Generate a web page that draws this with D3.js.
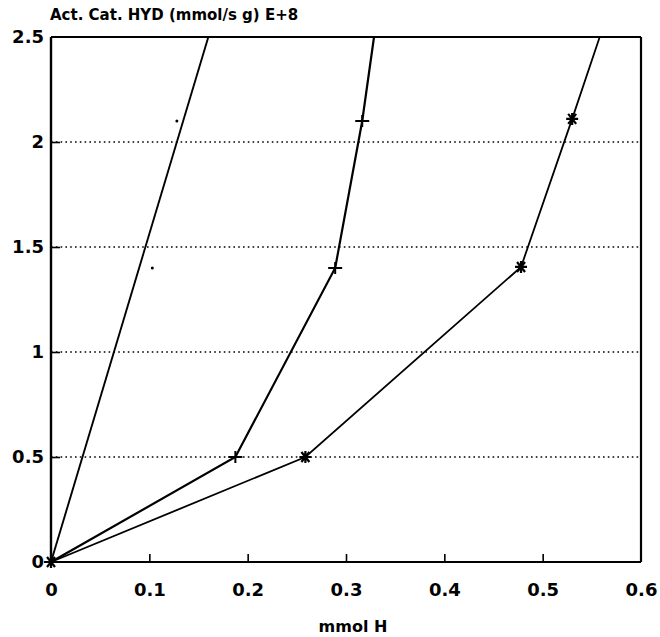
<!DOCTYPE html>
<html><head><meta charset="utf-8">
<script src="https://cdn.jsdelivr.net/npm/d3@7"></script>
<style>
html,body{margin:0;padding:0;background:#fff;}
svg text{font-family:"DejaVu Sans","Liberation Sans",Arial,sans-serif;font-weight:bold;fill:#000;}
</style></head>
<body><svg id="c" width="660" height="637"></svg>
<script>
// ---- data ----
const xTicks = [0, 0.1, 0.2, 0.3, 0.4, 0.5, 0.6];
const xTickLabels = ["0", "0.1", "0.2", "0.3", "0.4", "0.5", "0.6"];
const yTicks = [0, 0.5, 1, 1.5, 2, 2.5];
const yTickLabels = ["0", "0.5", "1", "1.5", "2", "2.5"];
const gridValues = [0.5, 1, 1.5, 2];

// series 1 (dots) — markers and its fitted line
const s1X = [0, 0.103, 0.128];
const s1Y = [0, 1.4, 2.1];
const s1LineX = [0, 0.16];
const s1LineY = [0, 2.5];
// series 2 (+)
const s2X = [0, 0.1875, 0.289, 0.3165];
const s2Y = [0, 0.5, 1.4, 2.1];
const s2LineX = [0, 0.1875, 0.289, 0.3165, 0.3285];
const s2LineY = [0, 0.5, 1.4, 2.1, 2.5];
// series 3 (*)
const s3X = [0, 0.2587, 0.478, 0.53];
const s3Y = [0, 0.5, 1.405, 2.11];
const s3LineX = [0, 0.2587, 0.478, 0.53, 0.558];
const s3LineY = [0, 0.5, 1.405, 2.11, 2.5];

const title = "Act. Cat. HYD (mmol/s g) E+8";
const xTitle = "mmol H";

// ---- layout ----
const W = 660, H = 637;
const m = {l: 51, r: 19, t: 37, b: 75};
const svg = d3.select("#c");
const x = d3.scaleLinear().domain([0, 0.6]).range([m.l, W - m.r]);
const y = d3.scaleLinear().domain([0, 2.5]).range([H - m.b, m.t]);

// grid
svg.append("g").selectAll("line").data(gridValues).join("line")
  .attr("x1", x(0)).attr("x2", x(0.6))
  .attr("y1", d => y(d)).attr("y2", d => y(d))
  .attr("stroke", "#000").attr("stroke-width", 1.6)
  .attr("stroke-dasharray", "1.6,3.2");

// axes
const xAxis = d3.axisBottom(x).tickValues(xTicks).tickFormat((d, i) => xTickLabels[i]).tickSize(-8).tickPadding(28);
const gx = svg.append("g").attr("transform", `translate(0,${y(0)})`).call(xAxis);
gx.select(".domain").remove();
gx.selectAll(".tick line").attr("stroke-width", 1.6).filter(d => d === 0 || d === 0.6).remove();
gx.selectAll("text").attr("font-size", 18).attr("dy", "0.35em");

const yAxis = d3.axisLeft(y).tickValues(yTicks).tickFormat((d, i) => yTickLabels[i]).tickSize(-9).tickPadding(7);
const gy = svg.append("g").attr("transform", `translate(${x(0)},0)`).call(yAxis);
gy.select(".domain").remove();
gy.selectAll(".tick line").attr("stroke-width", 1.6).filter(d => d === 0 || d === 2.5).remove();
gy.selectAll("text").attr("font-size", 18);

// frame
svg.append("line").attr("x1", x(0)).attr("x2", x(0)).attr("y1", y(2.5)).attr("y2", y(0)).attr("stroke", "#000").attr("stroke-width", 2.4);
svg.append("line").attr("x1", x(0)).attr("x2", x(0.6)).attr("y1", y(0)).attr("y2", y(0)).attr("stroke", "#000").attr("stroke-width", 2.2);
svg.append("line").attr("x1", x(0.6)).attr("x2", x(0.6)).attr("y1", y(2.5)).attr("y2", y(0)).attr("stroke", "#000").attr("stroke-width", 2.2);
svg.append("line").attr("x1", x(0)).attr("x2", x(0.6)).attr("y1", y(2.5)).attr("y2", y(2.5)).attr("stroke", "#000").attr("stroke-width", 1.8);

// lines
const line = d3.line().x(d => x(d[0])).y(d => y(d[1]));
const zip = (a, b) => a.map((v, i) => [v, b[i]]);
svg.append("path").datum(zip(s1LineX, s1LineY)).attr("d", line).attr("fill", "none").attr("stroke", "#000").attr("stroke-width", 1.9);
svg.append("path").datum(zip(s2LineX, s2LineY)).attr("d", line).attr("fill", "none").attr("stroke", "#000").attr("stroke-width", 2.2);
svg.append("path").datum(zip(s3LineX, s3LineY)).attr("d", line).attr("fill", "none").attr("stroke", "#000").attr("stroke-width", 1.8);

// markers
svg.append("g").selectAll("circle").data(zip(s1X, s1Y)).join("circle")
  .attr("cx", d => x(d[0])).attr("cy", d => y(d[1])).attr("r", 1.5).attr("fill", "#000");
svg.append("g").selectAll("path").data(zip(s2X, s2Y)).join("path")
  .attr("transform", d => `translate(${x(d[0])},${y(d[1])})`)
  .attr("d", "M-7,0H7M0,-6V6").attr("stroke", "#000").attr("stroke-width", 2).attr("fill", "none");
svg.append("g").selectAll("path").data(zip(s3X, s3Y)).join("path")
  .attr("transform", d => `translate(${x(d[0])},${y(d[1])})`)
  .attr("d", "M-6,0H6M-4,-5L4,5M-4,5L4,-5M0,-6V6").attr("stroke", "#000").attr("stroke-width", 2.2).attr("fill", "none");

// titles
svg.append("text").attr("x", 50).attr("y", 20).attr("font-size", 15).text(title);
svg.append("text").attr("x", (x(0) + x(0.6)) / 2 + 7).attr("y", 632).attr("text-anchor", "middle").attr("font-size", 16).text(xTitle);
</script></body></html>
